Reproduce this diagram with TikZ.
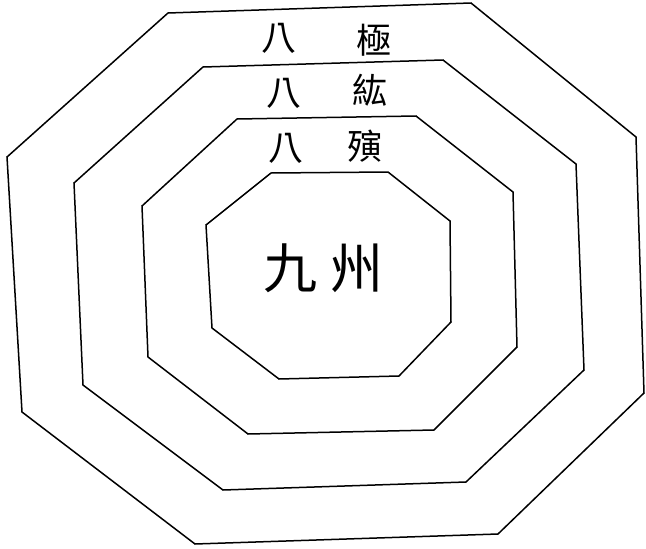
\documentclass[tikz,border=0pt]{standalone}
\usepackage{fontspec}
\newfontfamily\cjk{Noto Sans CJK TC}
\begin{document}
\begin{tikzpicture}[x=1pt,y=-1pt,
  ring/.style={draw=black,line width=1.5pt,line join=miter},
  lab/.style={font=\cjk\fontsize{35}{35}\selectfont,inner sep=0pt},
  biglab/.style={font=\cjk\fontsize{54}{54}\selectfont,inner sep=0pt}]
\useasboundingbox[fill=white] (0,0) rectangle (646,549);
% outer ring
\draw[ring] (168,13) -- (471,3) -- (636,137) -- (644,393) -- (498,534) -- (195,544) -- (22,412) -- (7,157) -- cycle;
% second ring
\draw[ring] (203,67) -- (443,60) -- (576,164) -- (584,370) -- (466,482) -- (223,490) -- (83,385) -- (74,183) -- cycle;
% third ring
\draw[ring] (237,119) -- (416,116) -- (513,192) -- (517,347) -- (434,430) -- (248,434) -- (148,357) -- (142,206) -- cycle;
% inner ring
\draw[ring] (271,173) -- (388,172) -- (450,221) -- (451,322) -- (399,376) -- (279,379) -- (212,328) -- (206,225) -- cycle;
% labels
\node[lab] (a1) at (279,38) {八};
\node[lab] (a2) at (374,40) {極};
\node[lab] (b1) at (284,93) {八};
\node[lab] (b2) at (370,90) {紘};
\node[lab] (c1) at (286,148) {八};
\node[lab] (c2) at (365,146) {殥};
\node[biglab] (d1) at (290,268) {九};
\node[biglab] (d2) at (356,268) {州};
\end{tikzpicture}
\end{document}
